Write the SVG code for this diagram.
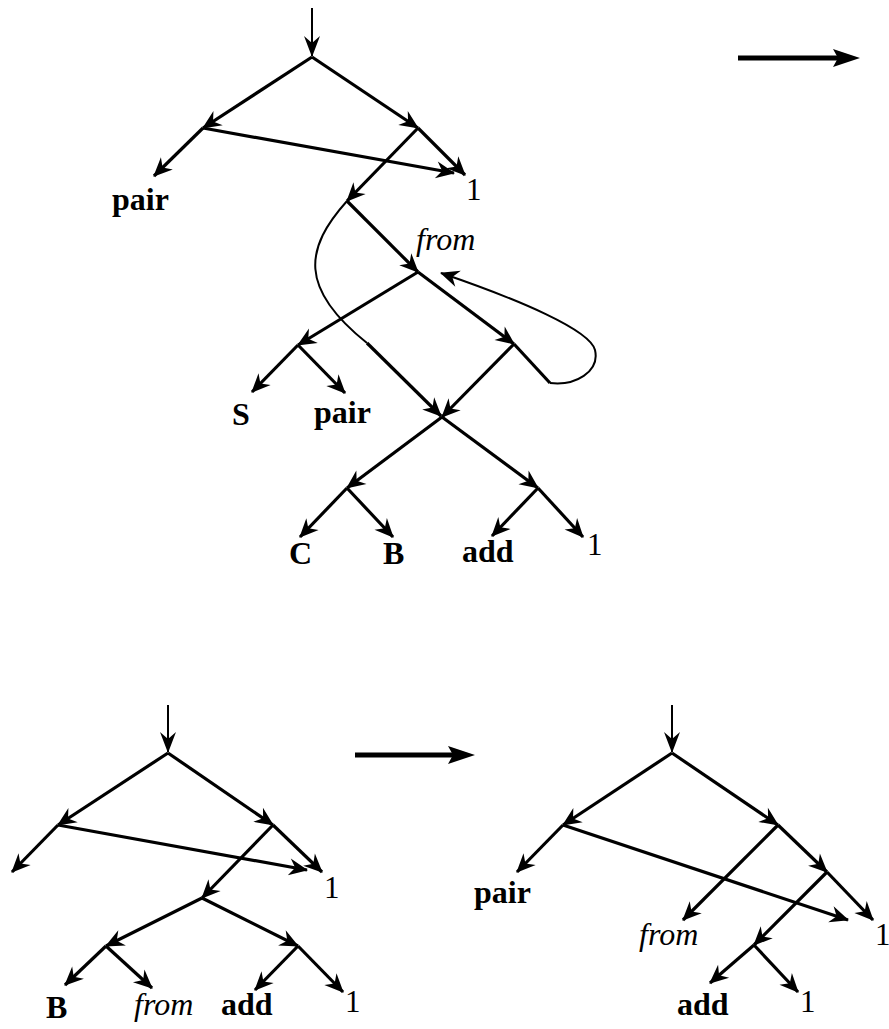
<svg xmlns="http://www.w3.org/2000/svg" width="889" height="1029" viewBox="0 0 889 1029">
<defs>
<style>
.e{stroke:#000;stroke-width:3.2;fill:none;marker-end:url(#ah)}
.p{stroke:#000;stroke-width:3.2;fill:none}
.c{stroke:#000;stroke-width:2;fill:none}
.in{stroke:#000;stroke-width:2;fill:none;marker-end:url(#ahv)}
.big{stroke:#000;stroke-width:5;fill:none;marker-end:url(#ahb)}
.b{font-family:"Liberation Serif","Times New Roman",serif;font-weight:bold;font-size:32px;fill:#000}
.i{font-family:"Liberation Serif","Times New Roman",serif;font-style:italic;font-size:32px;fill:#000}
.n{font-family:"Liberation Serif","Times New Roman",serif;font-size:31px;fill:#000}
</style>
<marker id="ah" markerUnits="userSpaceOnUse" viewBox="-22 -10 26 20" refX="0" refY="0" markerWidth="26" markerHeight="20" orient="auto" overflow="visible">
<path d="M1,0 L-18,-8.5 L-12,0 L-18,8.5 Z" fill="#000"/>
</marker>
<marker id="ahv" markerUnits="userSpaceOnUse" viewBox="-24 -10 28 20" refX="0" refY="0" markerWidth="28" markerHeight="20" orient="auto" overflow="visible">
<path d="M1,0 L-20,-8 L-13,0 L-20,8 Z" fill="#000"/>
</marker>
<marker id="ahb" markerUnits="userSpaceOnUse" viewBox="-10 -12 34 24" refX="0" refY="0" markerWidth="34" markerHeight="24" orient="auto" overflow="visible">
<path d="M20,0 L-7,-9 L-2,0 L-7,9 Z" fill="#000"/>
</marker>
</defs>
<g id="connectors">
<line class="in" x1="312" y1="8" x2="312" y2="56"/>
<line class="e" x1="312" y1="57" x2="203" y2="128"/>
<line class="e" x1="312" y1="57" x2="418" y2="128"/>
<line class="e" x1="203" y1="128" x2="154" y2="176"/>
<line class="e" x1="203" y1="128" x2="454" y2="173"/>
<line class="e" x1="418" y1="128" x2="465" y2="175"/>
<line class="e" x1="418" y1="128" x2="347" y2="201"/>
<line class="e" x1="347" y1="201" x2="418" y2="272"/>
<line class="e" x1="418" y1="272" x2="298" y2="345"/>
<line class="e" x1="418" y1="272" x2="514" y2="344"/>
<line class="e" x1="298" y1="345" x2="252" y2="392"/>
<line class="e" x1="298" y1="345" x2="345" y2="393"/>
<line class="e" x1="514" y1="344" x2="442" y2="417"/>
<line class="p" x1="514" y1="344" x2="550" y2="383"/>
<path class="c" d="M347,201 C305,248 298,288 367,343"/>
<line class="e" x1="367" y1="343" x2="441" y2="416"/>
<path class="c" d="M550,383 C575,386 600,372 595,350 C590,330 520,300 441,273" style="marker-end:url(#ah)"/>
<line class="e" x1="442" y1="417" x2="347" y2="488"/>
<line class="e" x1="442" y1="417" x2="538" y2="488"/>
<line class="e" x1="347" y1="488" x2="300" y2="537"/>
<line class="e" x1="347" y1="488" x2="393" y2="537"/>
<line class="e" x1="538" y1="488" x2="492" y2="536"/>
<line class="e" x1="538" y1="488" x2="583" y2="537"/>
<line class="big" x1="738" y1="58" x2="840" y2="58"/>
<line class="big" x1="355" y1="755" x2="455" y2="755"/>
<line class="in" x1="168" y1="705" x2="168" y2="752"/>
<line class="e" x1="168" y1="753" x2="58" y2="825"/>
<line class="e" x1="168" y1="753" x2="273" y2="825"/>
<line class="e" x1="58" y1="825" x2="12" y2="872"/>
<line class="e" x1="58" y1="825" x2="307" y2="870"/>
<line class="e" x1="273" y1="825" x2="322" y2="872"/>
<line class="e" x1="273" y1="825" x2="202" y2="898"/>
<line class="e" x1="202" y1="898" x2="106" y2="946"/>
<line class="e" x1="202" y1="898" x2="298" y2="946"/>
<line class="e" x1="106" y1="946" x2="65" y2="985"/>
<line class="e" x1="106" y1="946" x2="152" y2="988"/>
<line class="e" x1="298" y1="946" x2="255" y2="990"/>
<line class="e" x1="298" y1="946" x2="343" y2="992"/>
<line class="in" x1="672" y1="705" x2="672" y2="752"/>
<line class="e" x1="672" y1="753" x2="563" y2="825"/>
<line class="e" x1="672" y1="753" x2="778" y2="825"/>
<line class="e" x1="563" y1="825" x2="517" y2="872"/>
<line class="e" x1="563" y1="825" x2="848" y2="920"/>
<line class="e" x1="778" y1="825" x2="683" y2="920"/>
<line class="e" x1="778" y1="825" x2="827" y2="872"/>
<line class="e" x1="827" y1="872" x2="873" y2="920"/>
<line class="e" x1="827" y1="872" x2="754" y2="945"/>
<line class="e" x1="754" y1="945" x2="710" y2="983"/>
<line class="e" x1="754" y1="945" x2="798" y2="992"/>
</g>
<g id="top-tree-labels">
<g id="t-pair"><text class="b" x="112" y="210">pair</text></g>
<g id="t-one"><text class="n" x="466" y="200">1</text></g>
<g id="t-from"><text class="i" x="416" y="250">from</text></g>
<g id="t-S"><text class="b" x="232" y="425">S</text></g>
<g id="t-pair2"><text class="b" x="314" y="423">pair</text></g>
<g id="t-C"><text class="b" x="289" y="564">C</text></g>
<g id="t-B"><text class="b" x="383" y="564">B</text></g>
<g id="t-add"><text class="b" x="462" y="562">add</text></g>
<g id="t-one2"><text class="n" x="587" y="555">1</text></g>
</g>
<g id="bl-tree-labels">
<g id="bl-one"><text class="n" x="324" y="898">1</text></g>
<g id="bl-B"><text class="b" x="46" y="1018">B</text></g>
<g id="bl-from"><text class="i" x="134" y="1015">from</text></g>
<g id="bl-add"><text class="b" x="221" y="1015">add</text></g>
<g id="bl-one2"><text class="n" x="345" y="1012">1</text></g>
</g>
<g id="br-tree-labels">
<g id="br-pair"><text class="b" x="474" y="903">pair</text></g>
<g id="br-from"><text class="i" x="639" y="945">from</text></g>
<g id="br-one"><text class="n" x="875" y="945">1</text></g>
<g id="br-add"><text class="b" x="677" y="1015">add</text></g>
<g id="br-one2"><text class="n" x="800" y="1012">1</text></g>
</g>
</svg>
